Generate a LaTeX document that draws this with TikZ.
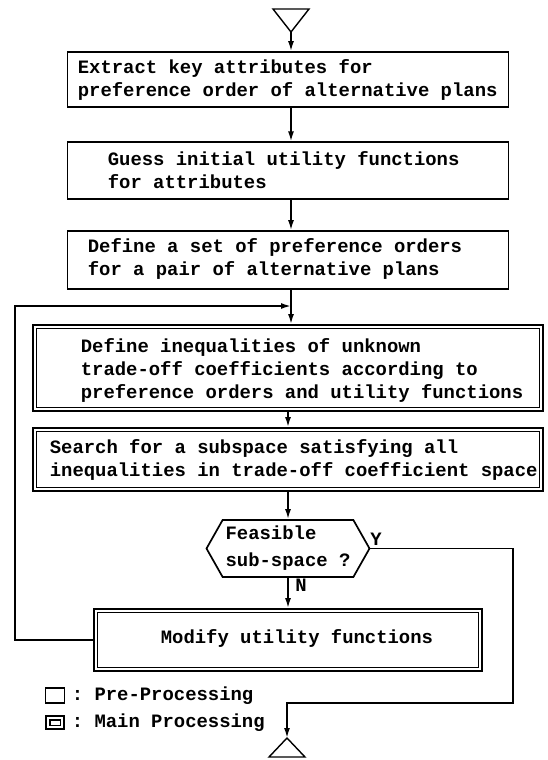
\documentclass[tikz,border=0pt]{standalone}
\usepackage{fontspec}
\setmonofont{Liberation Mono}
\usepackage{tikz}
\usetikzlibrary{arrows.meta,positioning,shapes.symbols}

\begin{document}
\begin{tikzpicture}[x=1pt,y=-1pt,line width=1.7pt,>={Latex[length=10pt,width=6pt]},
	every node/.style={font=\ttfamily\bfseries\fontsize{18.9}{23}\selectfont},
	prebox/.style={draw,rectangle,minimum width=441pt,inner sep=0pt},
	mainbox/.style={draw,double,double distance=2pt,rectangle,inner sep=0pt,outer sep=2.6pt},
	txt/.style={align=left,inner sep=0pt,anchor=west},
	decision/.style={draw,signal,signal to=east and west,signal pointer angle=121,align=left,
		minimum width=163pt,minimum height=57pt,inner sep=0pt}]
	\useasboundingbox (0,0) rectangle (547,760);
	% start and end marks
	\coordinate (start) at (291,32);
	\draw[line width=1.4pt] (start) -- ++(-18,-23) -- ++(36,0) -- cycle;
	\coordinate (finish) at (287,738);
	\draw[line width=1.4pt] (finish) -- ++(-18,19) -- ++(36,0) -- cycle;
	% pre-processing
	\node[prebox,minimum height=55pt] (b1) at (288,79.5) {};
	\node[txt] (t1) at (77,79.5) {Extract key attributes for\\preference order of alternative plans};
	\node[prebox,minimum height=56.5pt] (b2) at (288,170.5) {};
	\node[txt] (t2) at (107,170) {Guess initial utility functions\\for attributes};
	\node[prebox,minimum height=58pt] (b3) at (288,260) {};
	\node[txt] (t3) at (87,259) {Define a set of preference orders\\for a pair of alternative plans};
	% main processing
	\node[mainbox,minimum width=506.6pt,minimum height=82.6pt] (b4) at (288,368) {};
	\node[txt] (t4) at (80,370) {Define inequalities of unknown\\trade-off coefficients according to\\preference orders and utility functions};
	\node[mainbox,minimum width=506.6pt,minimum height=59.6pt] (b5) at (288,459.5) {};
	\node[txt] (t5) at (49,460) {Search for a subspace satisfying all\\inequalities in trade-off coefficient space};
	\node[decision] (dec) at (288,548.5) {Feasible\\[4pt]sub-space ?};
	\node[mainbox,minimum width=384.6pt,minimum height=58.6pt] (b6) at (288,640) {};
	\node[txt] (t6) at (160,638) {Modify utility functions};
	\node (ylab) at (376,539) {Y};
	\node (nlab) at (301,585) {N};
	% connectors
	\draw[->] (start) -- (start |- b1.north);
	\draw[->] (b1.south -| start) -- (b2.north -| start);
	\draw[->] (b2.south -| start) -- (b3.north -| start);
	\draw[->] (b3.south -| start) -- (b4.north -| start);
	\draw[->] (b4) -- (b5);
	\draw[->] (b5) -- (dec);
	\draw[->] (dec) -- (b6);
	\coordinate (loopc) at (15,306);
	\coordinate (joint) at (291,306);
	\draw[->] (b6.west) -| (loopc) -- (joint);
	\coordinate (yturn) at (513,703);
	\draw[->] (dec.east) -| (yturn) -| (finish);
	% legend
	\node[draw,minimum width=19pt,minimum height=15pt,inner sep=0pt] (lpre) at (55,695.5) {};
	\node[txt] (lpretxt) at (71,696) {: Pre-Processing};
	\node[mainbox,minimum width=14.4pt,minimum height=9.4pt] (lmain) at (55,722.5) {};
	\node[txt] (lmaintxt) at (71,723) {: Main Processing};
\end{tikzpicture}
\end{document}
